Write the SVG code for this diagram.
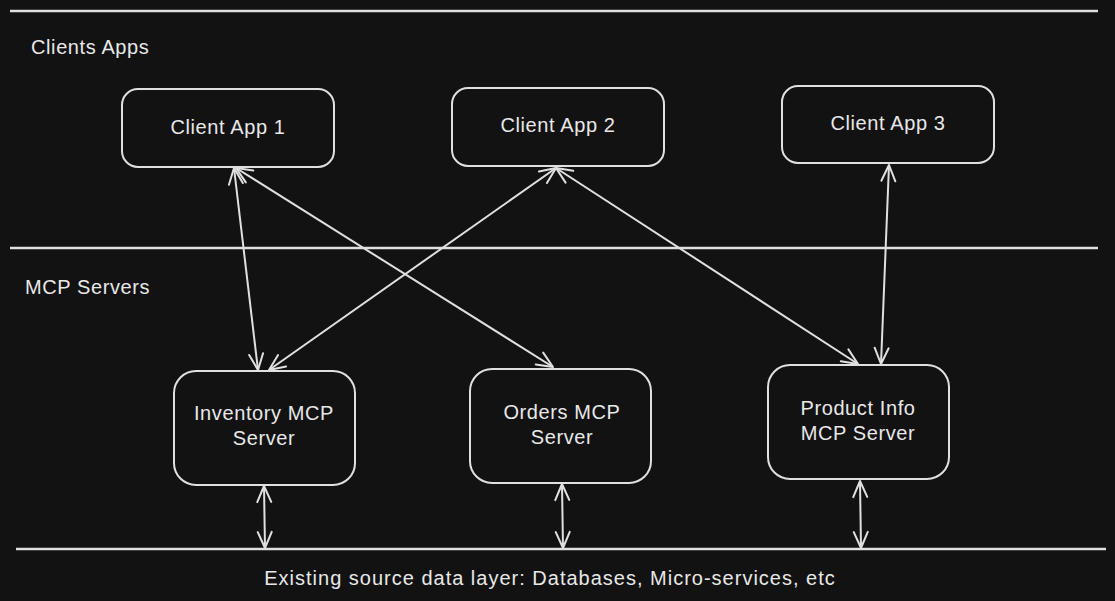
<svg xmlns="http://www.w3.org/2000/svg" width="1115" height="601" viewBox="0 0 1115 601">
<defs>
<marker id="ah" viewBox="0 0 20 20" refX="18" refY="10" markerWidth="20" markerHeight="20" markerUnits="userSpaceOnUse" orient="auto-start-reverse">
<path d="M2,3 L18,10 L2,17" fill="none" stroke="#e0e0e0" stroke-width="2" stroke-linecap="round" stroke-linejoin="round"/>
</marker>
</defs>
<style>
.bg{fill:#121212}
.box{fill:#121212;stroke:#e0e0e0;stroke-width:2}
.sep{stroke:#e0e0e0;stroke-width:2.5;fill:none}
.con{stroke:#e0e0e0;stroke-width:2;fill:none;marker-start:url(#ah);marker-end:url(#ah)}
.t{font-family:"Liberation Sans",Arial,sans-serif;font-size:20px;fill:#e8e8e8;letter-spacing:0.6px}
.c{text-anchor:middle}
.wide{letter-spacing:1px}
</style>
<rect class="bg" x="0" y="0" width="1115" height="601"/>
<g id="separators">
<line class="sep" x1="10" y1="11" x2="1098" y2="11"/>
<line class="sep" x1="10" y1="248" x2="1098" y2="248"/>
<line class="sep" x1="16" y1="549" x2="1106" y2="549"/>
</g>
<g id="labels">
<text class="t" x="31" y="54">Clients Apps</text>
<text class="t" x="25" y="294">MCP Servers</text>
<text class="t c wide" x="550" y="585">Existing source data layer: Databases, Micro-services, etc</text>
</g>
<g id="connectors">
<line class="con" x1="234" y1="168" x2="258" y2="370"/>
<line class="con" x1="236" y1="168" x2="553" y2="367"/>
<line class="con" x1="556" y1="168" x2="269" y2="370"/>
<line class="con" x1="556" y1="168" x2="858" y2="364"/>
<line class="con" x1="889" y1="165" x2="881" y2="364"/>
<line class="con" x1="264" y1="486" x2="265" y2="548"/>
<line class="con" x1="562" y1="484" x2="563" y2="548"/>
<line class="con" x1="860" y1="481" x2="861" y2="548"/>
</g>
<g id="client-app-1">
<rect class="box" x="122" y="89" width="212" height="78" rx="16"/>
<text class="t c" x="228" y="134">Client App 1</text>
</g>
<g id="client-app-2">
<rect class="box" x="452" y="88" width="212" height="78" rx="16"/>
<text class="t c" x="558" y="132">Client App 2</text>
</g>
<g id="client-app-3">
<rect class="box" x="782" y="86" width="212" height="77" rx="16"/>
<text class="t c" x="888" y="130">Client App 3</text>
</g>
<g id="inventory-mcp-server">
<rect class="box" x="174" y="371" width="181" height="114" rx="22"/>
<text class="t c" x="264" y="420">Inventory MCP</text>
<text class="t c" x="264" y="445">Server</text>
</g>
<g id="orders-mcp-server">
<rect class="box" x="470" y="369" width="181" height="114" rx="22"/>
<text class="t c" x="562" y="419">Orders MCP</text>
<text class="t c" x="562" y="444">Server</text>
</g>
<g id="product-info-mcp-server">
<rect class="box" x="768" y="365" width="181" height="114" rx="22"/>
<text class="t c" x="858" y="415">Product Info</text>
<text class="t c" x="858" y="440">MCP Server</text>
</g>
</svg>
